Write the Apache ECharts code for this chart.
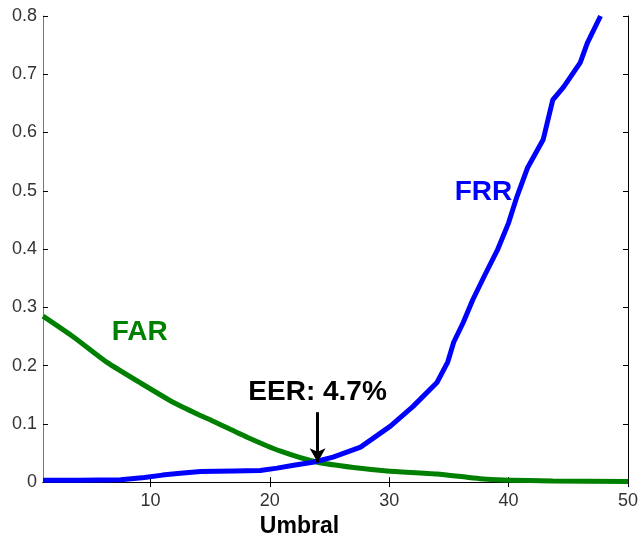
<!DOCTYPE html>
<html><head><meta charset="utf-8">
<script src="https://cdn.jsdelivr.net/npm/echarts@6/dist/echarts.min.js"></script>
<style>html,body{margin:0;padding:0;background:#fff}#c{width:641px;height:543px}</style>
</head><body><div id="c"></div>
<script>
const frrX = [1,4,7.5,9.5,11,12.5,14.2,17,19.2,20.6,22,23.6,25.3,27.6,30.1,32,34,34.9,35.4,36.2,37,38,39.1,40,40.7,41.6,42.9,43.7,44.6,46,46.6,47.7];
const frrY = [0.003,0.003,0.004,0.008,0.012,0.015,0.018,0.019,0.020,0.024,0.029,0.034,0.043,0.060,0.096,0.13,0.171,0.206,0.24,0.274,0.313,0.355,0.40,0.445,0.49,0.54,0.588,0.656,0.678,0.72,0.754,0.80];
const farX = [1,3.5,6.4,9.1,11.9,14,15.2,18.1,20.9,24,27,29.8,34,38.2,43.7,50];
const farY = [0.285,0.25,0.205,0.171,0.137,0.116,0.105,0.077,0.053,0.034,0.025,0.019,0.014,0.005,0.002,0.001];
const xTicks = [10,20,30,40,50];
const yMin = 0, yMax = 0.8, yStep = 0.1;
const xMin = 1, xMax = 50;
const labelFAR = {x: 9.1, y: 0.257, text: 'FAR'};
const labelFRR = {x: 37.9, y: 0.498, text: 'FRR'};
const labelEER = {x: 24.0, y: 0.154, text: 'EER: 4.7%'};
const arrowEER = {x: 24.0, yFrom: 0.12, yTo: 0.034};

const font = 'Arial, "Liberation Sans", sans-serif';
const pairs = (xs, ys) => xs.map((x, i) => [x, ys[i]]);
const chart = echarts.init(document.getElementById('c'), null, {renderer: 'canvas'});
const txt = (l, color) => ({
  coord: [l.x, l.y], symbol: 'circle', symbolSize: 0,
  label: {show: true, position: 'inside', formatter: l.text, color: color,
          fontSize: 28, fontWeight: 'bold', fontFamily: font}
});
const axisBase = {
  type: 'value', min: xMin, max: xMax,
  axisLine: {show: true, lineStyle: {color: '#000', width: 1}},
  splitLine: {show: false}
};
chart.setOption({
  animation: false,
  backgroundColor: '#fff',
  grid: {left: 43, right: 13, top: 16, bottom: 60},
  xAxis: [
    Object.assign({}, axisBase, {
      position: 'bottom',
      name: 'Umbral', nameLocation: 'middle', nameGap: 30,
      nameTextStyle: {fontSize: 23, fontWeight: 'bold', color: '#000', fontFamily: font, padding: [0, 72, 0, 0]},
      axisTick: {show: true, inside: true, length: 5, customValues: xTicks, lineStyle: {color: '#000'}},
      axisLabel: {show: true, customValues: xTicks, fontSize: 18, color: '#333', fontFamily: font, margin: 10}
    }),
    Object.assign({}, axisBase, {
      position: 'top',
      axisTick: {show: true, inside: true, length: 5, customValues: xTicks, lineStyle: {color: '#000'}},
      axisLabel: {show: false}
    })
  ],
  yAxis: [
    {type: 'value', min: yMin, max: yMax, interval: yStep, position: 'left',
     axisLine: {show: true, lineStyle: {color: '#777'}},
     axisTick: {show: true, inside: true, length: 5, lineStyle: {color: '#000'}},
     axisLabel: {fontSize: 18, color: '#333', fontFamily: font, margin: 6},
     splitLine: {show: false}},
    {type: 'value', min: yMin, max: yMax, interval: yStep, position: 'right',
     axisLine: {show: true, lineStyle: {color: '#000'}},
     axisTick: {show: true, inside: true, length: 5, lineStyle: {color: '#000'}},
     axisLabel: {show: false}, splitLine: {show: false}}
  ],
  series: [
    {name: 'FAR', type: 'line', data: pairs(farX, farY), showSymbol: false, smooth: 0.2,
     lineStyle: {color: '#008000', width: 5}, itemStyle: {color: '#008000'},
     markPoint: {data: [txt(labelFAR, '#008000')]}},
    {name: 'FRR', type: 'line', data: pairs(frrX, frrY), showSymbol: false, smooth: false,
     lineStyle: {color: '#0000ff', width: 5, join: 'round'}, itemStyle: {color: '#0000ff'},
     markPoint: {data: [txt(labelFRR, '#0000ff'), txt(labelEER, '#000')]},
     markLine: {silent: true, symbol: ['none', 'arrow'], symbolSize: [12, 14],
       label: {show: false},
       lineStyle: {color: '#000', width: 3, type: 'solid'},
       data: [[{coord: [arrowEER.x, arrowEER.yFrom]}, {coord: [arrowEER.x, arrowEER.yTo]}]]}}
  ]
});
</script></body></html>
